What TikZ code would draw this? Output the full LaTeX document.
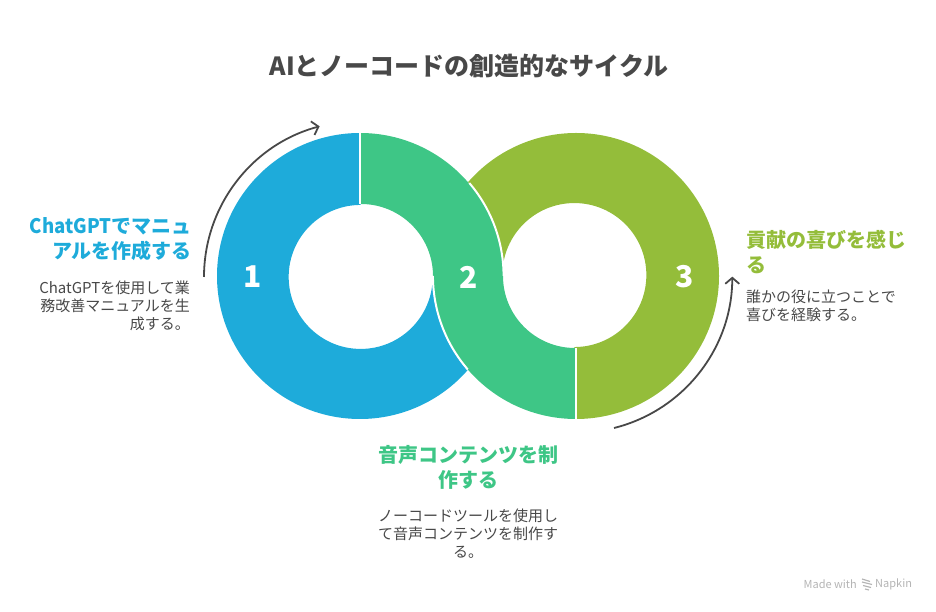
\documentclass[tikz,border=0pt]{standalone}
\usepackage{fontspec}
\setmainfont{Noto Sans CJK JP}
\usetikzlibrary{arrows.meta}

\definecolor{ringblue}{HTML}{1EABDA}
\definecolor{ringgreen}{HTML}{3EC686}
\definecolor{ringolive}{HTML}{94BD3A}
\definecolor{inkgrey}{HTML}{484848}
\definecolor{markgrey}{HTML}{B4B4B4}

\newcommand{\narrowlatin}[1]{{\addfontfeature{FakeStretch=0.93}#1}}

\tikzset{
	seam/.style={draw=white,line width=2pt},
	digit/.style={text=white,font=\fontsize{30}{30}\selectfont\bfseries},
	head/.style={inner sep=0pt,font=\fontsize{20}{25}\selectfont\bfseries},
	body/.style={inner sep=0pt,text=inkgrey,font=\fontsize{15}{18}\selectfont},
	footmark/.style={inner sep=0pt,text=markgrey,font=\fontsize{11}{12}\selectfont},
	flow/.style={draw=inkgrey,line width=1.8pt,-{Straight Barb[length=6pt,width=14pt,line width=1.8pt]}}
}

\begin{document}
\begin{tikzpicture}[x=1pt,y=1pt]
	\useasboundingbox (0,0) rectangle (936,612);

	% Blue part
	\fill[ringblue] (360,479) arc[start angle=90,end angle=318.7,radius=143]
		arc[start angle=220.8,end angle=180,radius=143]
		arc[start angle=0,end angle=-270,radius=72] -- cycle;

	% Olive part
	\fill[ringolive] (576,193) arc[start angle=270,end angle=499,radius=143]
		arc[start angle=40.5,end angle=0,radius=143]
		arc[start angle=180,end angle=-90,radius=72] -- cycle;

	% Green part
	\fill[ringgreen] (360,479) arc[start angle=90,end angle=0,radius=143]
		arc[start angle=180,end angle=270,radius=72]
		-- (576,193) arc[start angle=270,end angle=180,radius=143]
		arc[start angle=0,end angle=90,radius=72] -- cycle;

	% White seams
	\draw[seam] (360,479.5) -- (360,408);
	\draw[seam] (576,264) -- (576,192.5);
	\draw[seam] (469.3,429) arc[start angle=40.5,end angle=0,radius=143];
	\draw[seam] (467.7,242.6) arc[start angle=220.8,end angle=180,radius=143];

	% Numbers
	\node[digit] (one) at (253,335) {1};
	\node[digit] (two) at (469,335) {2};
	\node[digit] (three) at (685,335) {3};

	% Flow arrows
	\coordinate (leftstart) at (204,335);
	\coordinate (rightstart) at (614,184);
	\draw[flow] (leftstart) arc[start angle=180,end angle=105,radius=156];
	\draw[flow] (rightstart) arc[start angle=-76,end angle=0,radius=156];

	% Title
	\node[text=inkgrey,font=\fontsize{25}{30}\selectfont\bfseries] (title) at (469,546) {AIとノーコードの創造的なサイクル};

	% Left text
	\node[head,text=ringblue,align=right,anchor=east] (headone) at (192,373) {\narrowlatin{ChatGPT}でマニュ\\アルを作成する};
	\node[body,align=right,anchor=east] (bodyone) at (190,306) {ChatGPTを使用して業\\務改善マニュアルを生\\成する。};

	% Bottom text
	\node[head,text=ringgreen,align=center] (headtwo) at (468,145) {音声コンテンツを制\\作する};
	\node[body,align=center] (bodytwo) at (468,78) {ノーコードツールを使用し\\て音声コンテンツを制作す\\る。};

	% Right text
	\node[head,text=ringolive,align=left,anchor=west] (headthree) at (746,360) {貢献の喜びを感じ\\る};
	\node[body,align=left,anchor=west] (bodythree) at (746,306) {誰かの役に立つことで\\喜びを経験する。};

	% Footer mark
	\node[footmark,anchor=east] (made) at (857,28) {Made with};
	\node[footmark,anchor=west] (napkin) at (875,28) {Napkin};
	\draw[markgrey,line width=1.2pt] (862,33) -- (870,30.5) (862,30) -- (872,27.5) (863,26.5) -- (871,24.5) (865,23) -- (869,22);
\end{tikzpicture}
\end{document}
